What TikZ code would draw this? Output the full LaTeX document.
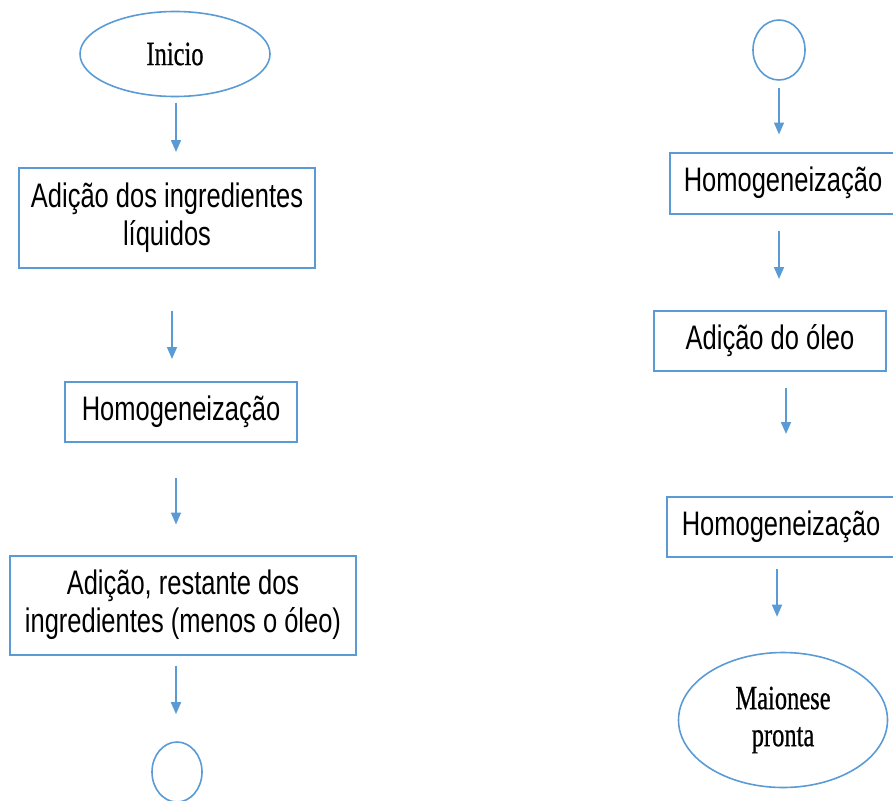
\documentclass[tikz,border=0pt]{standalone}
\usepackage{fontspec}
\usepackage{tikz}
\usetikzlibrary{shapes.geometric,arrows.meta}

\newfontfamily\boxfont[FakeStretch=0.75]{Liberation Sans}
\newfontfamily\ovalfont[FakeStretch=0.72,FakeBold=0.6]{Liberation Serif}
\definecolor{flowblue}{RGB}{91,155,213}

\begin{document}
\begin{tikzpicture}[x=1pt,y=-1pt,
      stepbox/.style={rectangle,draw=flowblue,line width=2pt,inner sep=0pt,align=center,
        font=\boxfont\fontsize{34}{38}\selectfont},
      oval/.style={ellipse,draw=flowblue,line width=1.6pt,inner sep=0pt,align=center,
        font=\ovalfont\fontsize{34}{37}\selectfont},
      arr/.style={draw=flowblue,line width=1.6pt,-{Triangle[width=10pt,length=12pt]}}]
    \useasboundingbox (0,0) rectangle (893,800);
    % left column
    \node[oval,minimum width=190pt,minimum height=85pt] (ini) at (175,54) {Inicio};
    \node[stepbox,minimum width=296pt,minimum height=100pt] (liq) at (167,218)
      {Adição dos ingredientes\\líquidos};
    \node[stepbox,minimum width=232pt,minimum height=60pt] (homa) at (181,412) {Homogeneização};
    \node[stepbox,minimum width=346pt,minimum height=99pt] (rest) at (183,605)
      {Adição, restante dos\\ingredientes (menos o óleo)};
    \node[oval,minimum width=50pt,minimum height=60pt] (cona) at (177,772) {};
    % right column
    \node[oval,minimum width=52pt,minimum height=60pt] (conb) at (779,50) {};
    \node[stepbox,minimum width=226pt,minimum height=61pt] (homb) at (783,183) {Homogeneização};
    \node[stepbox,minimum width=232pt,minimum height=60pt] (oleo) at (770,341) {Adição do óleo};
    \node[stepbox,minimum width=228pt,minimum height=60pt] (homc) at (781,527) {Homogeneização};
    \node[oval,minimum width=209pt,minimum height=135pt] (fim) at (783,720) {Maionese\\pronta};
    % connectors: source/target/xshift/gap at start/gap at end
    \foreach \a/\b/\d/\s/\e in {ini/liq/1/6/15, liq/homa/5/42/22, homa/rest/-5/35/30,
        rest/cona/-7/10/27, conb/homb/0/7/17, homb/oleo/-4/16/31, oleo/homc/16/16/62,
        homc/fim/-4/11/35} {
      \draw[arr,shorten <=\s pt,shorten >=\e pt]
        ([xshift=\d pt]\a.south) -- ([xshift=\d pt]\a.south |- \b.north);
    }
\end{tikzpicture}
\end{document}
